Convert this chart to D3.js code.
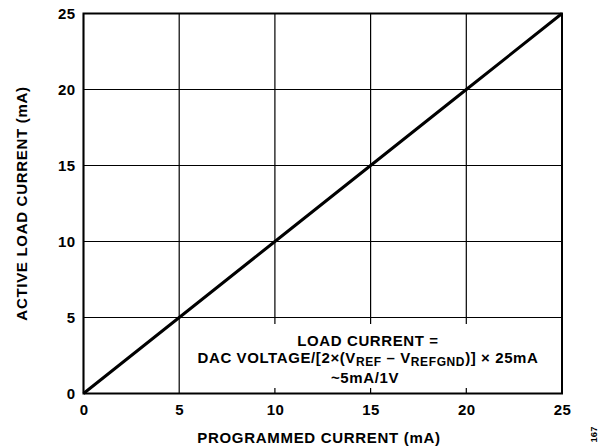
<!DOCTYPE html>
<html><head><meta charset="utf-8">
<script src="https://cdn.jsdelivr.net/npm/d3@7"></script>
<style>body{margin:0;background:#fff}svg{display:block}text{font-family:"Liberation Sans",Arial,sans-serif;font-weight:bold;fill:#000}</style>
</head><body><svg id="c" width="601" height="448"></svg>
<script>
const programmed = [0, 5, 10, 15, 20, 25];
const activeLoad = [0, 5, 10, 15, 20, 25];
const xTicks = [0, 5, 10, 15, 20, 25];
const yTicks = [0, 5, 10, 15, 20, 25];
const xTitle = "PROGRAMMED CURRENT (mA)";
const yTitle = "ACTIVE LOAD CURRENT (mA)";

const svg = d3.select("#c");
const L = 83.5, R = 562, T = 13.5, B = 393.5;
const x = d3.scaleLinear().domain([0, 25]).range([L, R]);
const y = d3.scaleLinear().domain([0, 25]).range([B, T]);

// grid
svg.append("g").selectAll("line").data(xTicks).join("line")
  .attr("x1", d => x(d)).attr("x2", d => x(d)).attr("y1", T).attr("y2", B)
  .attr("stroke", "#000").attr("stroke-width", 1.2);
svg.append("g").selectAll("line").data(yTicks).join("line")
  .attr("y1", d => y(d)).attr("y2", d => y(d)).attr("x1", L).attr("x2", R)
  .attr("stroke", "#000").attr("stroke-width", 1.2);

// annotation box (white, covers grid)
svg.append("rect").attr("x", 186).attr("y", 324).attr("width", R - 186).attr("height", 64).attr("fill", "#fff");

// frame
svg.append("rect").attr("x", L).attr("y", T).attr("width", R - L).attr("height", B - T)
  .attr("fill", "none").attr("stroke", "#000").attr("stroke-width", 2);

// data line
svg.append("path").datum(programmed.map((p, i) => [p, activeLoad[i]]))
  .attr("d", d3.line().x(d => x(d[0])).y(d => y(d[1])))
  .attr("fill", "none").attr("stroke", "#000").attr("stroke-width", 3);

// axes
const xAxis = svg.append("g").attr("transform", `translate(0,${B})`)
  .call(d3.axisBottom(x).tickValues(xTicks).tickSize(0));
const yAxis = svg.append("g").attr("transform", `translate(${L},0)`)
  .call(d3.axisLeft(y).tickValues(yTicks).tickSize(0).tickPadding(8));
[xAxis, yAxis].forEach(a => {
  a.select(".domain").remove();
  a.selectAll("text").attr("font-size", 15).attr("font-weight", "bold")
    .attr("letter-spacing", 0.4)
    .attr("font-family", "'Liberation Sans', Arial, sans-serif").attr("fill", "#000");
});
xAxis.selectAll("text").attr("dy", null).attr("y", 21.5);

// titles
svg.append("text").attr("x", 319).attr("y", 443).attr("text-anchor", "middle")
  .attr("font-size", 15).attr("letter-spacing", 0.7).text(xTitle);
svg.append("text").attr("transform", `translate(27,${(T + B) / 2}) rotate(-90)`)
  .attr("text-anchor", "middle").attr("font-size", 15).attr("letter-spacing", 0.7).text(yTitle);

// annotation
const ax = 368;
svg.append("text").attr("x", ax).attr("y", 346).attr("text-anchor", "middle").attr("font-size", 15)
  .attr("letter-spacing", 0.6).text("LOAD CURRENT =");
const t2 = svg.append("text").attr("x", ax).attr("y", 363).attr("text-anchor", "middle").attr("font-size", 15)
  .attr("letter-spacing", 0.6);
t2.append("tspan").text("DAC VOLTAGE/[2×(V");
t2.append("tspan").attr("font-size", 12).attr("dy", 2.5).text("REF");
t2.append("tspan").attr("dy", -2.5).text(" – V");
t2.append("tspan").attr("font-size", 12).attr("dy", 2.5).text("REFGND");
t2.append("tspan").attr("dy", -2.5).text(")] × 25mA");
svg.append("text").attr("x", ax - 3).attr("y", 382.5).attr("text-anchor", "middle").attr("font-size", 15)
  .attr("letter-spacing", 0.6).text("~5mA/1V");

// figure id
svg.append("text").attr("transform", "translate(597,434.5) rotate(-90)").attr("font-size", 9.5)
  .attr("font-weight", "normal").attr("fill", "#333").attr("text-anchor", "middle").text("167");
</script></body></html>
